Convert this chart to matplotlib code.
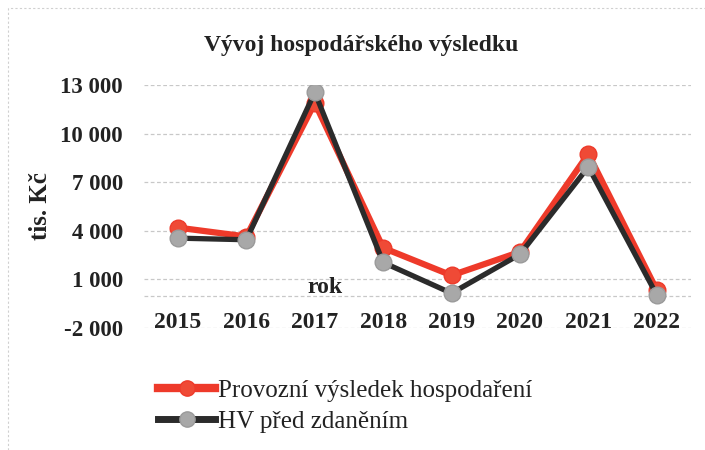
import matplotlib
matplotlib.use('Agg')
import matplotlib.pyplot as plt
from matplotlib.patches import Rectangle
from matplotlib.ticker import FuncFormatter

plt.rcParams['font.family'] = ['Liberation Serif', 'DejaVu Serif']

# data (tis. Kč)
years = ['2015', '2016', '2017', '2018', '2019', '2020', '2021', '2022']
provozni = [4200, 3650, 11900, 2950, 1250, 2700, 8750, 350]
hv_pred_zdanenim = [3550, 3450, 12550, 2050, 150, 2550, 7950, 50]
yticks = [-2000, 1000, 4000, 7000, 10000, 13000]

fig = plt.figure(figsize=(7.05, 4.5), dpi=100)
ax = fig.add_axes([0.204, 0.271, 0.776, 0.540])

x = range(len(years))
ax.plot(x, provozni, color='#ee3a2a', lw=4.5, marker='o', ms=12,
        mfc='#ef4a36', mec='#ee3a2a', label='Provozní výsledek hospodaření', zorder=3)
ax.plot(x, hv_pred_zdanenim, color='#2b2b2b', lw=3.8, marker='o', ms=12,
        mfc='#a8a8a8', mec='#9a9a9a', label='HV před zdaněním', zorder=4)

ax.set_ylim(-2000, 13000)
ax.set_xlim(-0.5, len(years) - 0.5)
ax.set_yticks(yticks)
ax.yaxis.set_major_formatter(FuncFormatter(lambda v, p: f'{int(v):,}'.replace(',', ' ')))
ax.set_xticks(list(x), years)
for lbl in ax.get_xticklabels():
    lbl.set_va('center')
ax.tick_params(axis='x', length=0, pad=-4, labelsize=17)
ax.tick_params(axis='y', length=0, pad=15, labelsize=16.5)
for lbl in ax.get_xticklabels() + ax.get_yticklabels():
    lbl.set_fontweight('bold')
    lbl.set_color('#222222')

ax.grid(axis='y', color='#c8c8c8', lw=0.9, ls=(0, (3, 2)))
ax.axhline(0, color='#c8c8c8', lw=0.9, ls=(0, (3, 2)), zorder=1)
for s in ax.spines.values():
    s.set_visible(False)

ax.set_ylabel('tis. Kč', fontsize=18, fontweight='bold', color='#222222', labelpad=6)
ax.text(2.15, 500, 'rok', fontsize=17, fontweight='bold', color='#222222',
        ha='center', va='center')

fig.text(0.512, 0.9, 'Vývoj hospodářského výsledku', fontsize=17, fontweight='bold',
         color='#222222', ha='center', va='center')

leg = ax.legend(loc='center left', bbox_to_anchor=(0.224, 0.097), bbox_transform=fig.transFigure,
                frameon=False, fontsize=18, handlelength=2.3, handletextpad=0.12,
                labelspacing=0.33, borderaxespad=0, borderpad=0)
for t in leg.get_texts():
    t.set_color('#222222')
for h in leg.legend_handles:
    h.set_markersize(11)
leg.legend_handles[0].set_linewidth(6)
leg.legend_handles[1].set_linewidth(5)

fig.patches.append(Rectangle((0.011, -0.02), 1.0, 1.002, transform=fig.transFigure,
                             fill=False, ec='#d0d0d0', lw=0.8, ls=(0, (2, 2))))

fig.savefig('out.png', dpi=100)
